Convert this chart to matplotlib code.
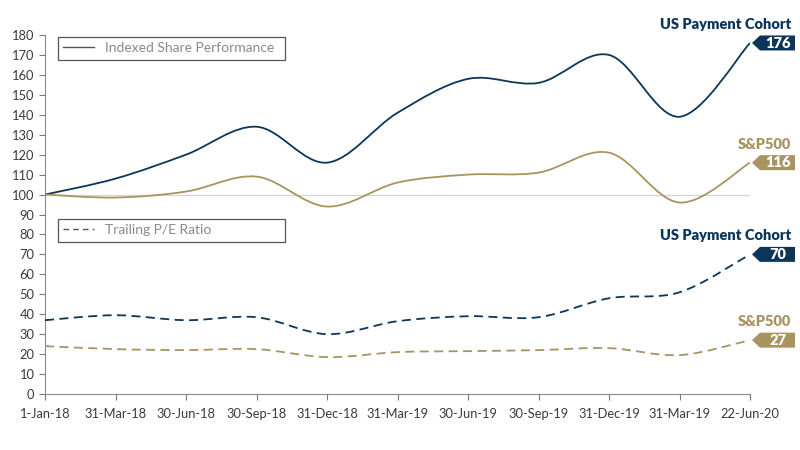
import numpy as np
import matplotlib
matplotlib.use("Agg")
import matplotlib.pyplot as plt
from matplotlib.path import Path
from matplotlib.patches import PathPatch, Polygon
from matplotlib.lines import Line2D
import matplotlib.transforms as mtransforms

plt.rcParams['font.family'] = ['Lato', 'DejaVu Sans']

# --- data ---
dates = ['1-Jan-18', '31-Mar-18', '30-Jun-18', '30-Sep-18', '31-Dec-18', '31-Mar-19',
         '30-Jun-19', '30-Sep-19', '31-Dec-19', '31-Mar-19', '22-Jun-20']
cohort_perf = [100, 108, 120, 134, 116, 141, 158, 156, 170, 139, 176]
sp_perf = [100, 98.5, 101.5, 109, 94, 106, 110, 111, 121, 96, 116]
cohort_pe = [37, 39.5, 37, 38.5, 30, 36.5, 39, 38.5, 48, 51, 70]
sp_pe = [24, 22.5, 22, 22.5, 18.5, 21, 21.5, 22, 23, 19.5, 27]

navy = '#0c3659'
tan = '#a8945f'
grey_txt = '#3a3a3a'


def smooth_path(x, y):
    # catmull-rom through the points, drawn as bezier segments
    x = np.asarray(x, float)
    y = np.asarray(y, float)
    pts = np.column_stack([x, y])
    verts = [pts[0]]
    codes = [Path.MOVETO]
    n = len(pts)
    for i in range(n - 1):
        p0 = pts[i - 1] if i > 0 else pts[i]
        p1 = pts[i]
        p2 = pts[i + 1]
        p3 = pts[i + 2] if i + 2 < n else pts[i + 1]
        c1 = p1 + (p2 - p0) / 6.0
        c2 = p2 - (p3 - p1) / 6.0
        verts += [c1, c2, p2]
        codes += [Path.CURVE4] * 3
    return Path(verts, codes)


fig = plt.figure(figsize=(8, 4.5), dpi=100)
ax = fig.add_axes([45 / 800, 1 - 394 / 450, 705 / 800, 359 / 450])

xs = np.arange(len(dates))

ax.plot([xs[0], xs[-1]], [100, 100], color='#d4d4d4', lw=0.9, zorder=1)

for vals, col, ls in [(cohort_perf, navy, '-'), (sp_perf, tan, '-'),
                      (cohort_pe, navy, '--'), (sp_pe, tan, '--')]:
    patch = PathPatch(smooth_path(xs, vals), facecolor='none', edgecolor=col,
                      lw=1.3, zorder=3, capstyle='butt')
    if ls == '--':
        patch.set_linestyle((0, (5, 3)))
    ax.add_patch(patch)

ax.set_xlim(0, xs[-1])
ax.set_ylim(0, 180)
ax.set_yticks(np.arange(0, 181, 10))
ax.set_xticks(xs)
ax.set_xticklabels(dates)
ax.tick_params(axis='both', colors='#7a7a7a', labelcolor=grey_txt, labelsize=9.3,
               length=4, width=0.8)
ax.tick_params(axis='x', pad=6)
for s in ['top', 'right']:
    ax.spines[s].set_visible(False)
for s in ['left', 'bottom']:
    ax.spines[s].set_color('#8a8a8a')
    ax.spines[s].set_linewidth(0.8)

# legends
h1 = [Line2D([], [], color='#4a5560', lw=1.0)]
leg1 = ax.legend(h1, ['Indexed Share Performance'], loc='center left',
                 bbox_to_anchor=(0.018, 0.93, 0.322, 0.067), mode='expand',
                 borderaxespad=0, fancybox=False, edgecolor='#555555', fontsize=10,
                 handlelength=2.2, borderpad=0.4, labelcolor='#8a8a8a', framealpha=1)
leg1.get_frame().set_linewidth(0.9)
ax.add_artist(leg1)
h2 = [Line2D([], [], color='#4a5560', lw=1.0, linestyle=(0, (4, 3)))]
leg2 = ax.legend(h2, ['Trailing P/E Ratio'], loc='center left',
                 bbox_to_anchor=(0.018, 0.423, 0.322, 0.067), mode='expand',
                 borderaxespad=0, fancybox=False, edgecolor='#555555', fontsize=10,
                 handlelength=2.2, borderpad=0.4, labelcolor='#8a8a8a', framealpha=1)
leg2.get_frame().set_linewidth(0.9)

# end tags
for vals, col in [(cohort_perf, navy), (sp_perf, tan), (cohort_pe, navy), (sp_pe, tan)]:
    v = vals[-1]
    tr = fig.dpi_scale_trans + mtransforms.ScaledTranslation(xs[-1], v, ax.transData)
    tag = Polygon([(0.02, 0), (0.1, 0.075), (0.45, 0.075), (0.45, -0.075), (0.1, -0.075)],
                  closed=True, transform=tr, facecolor=col, edgecolor='none',
                  clip_on=False, zorder=5)
    ax.add_patch(tag)
    ax.text(0.275, -0.003, str(v), transform=tr, ha='center', va='center',
            color='white', fontsize=10.5, fontweight='heavy', zorder=6, clip_on=False)
    name = 'US Payment Cohort' if col == navy else 'S&P500'
    ax.text(0.41, 0.12, name, transform=tr, ha='right', va='bottom',
            color=col, fontsize=10.5, fontweight='heavy', clip_on=False)

fig.savefig('out.png', dpi=100)
